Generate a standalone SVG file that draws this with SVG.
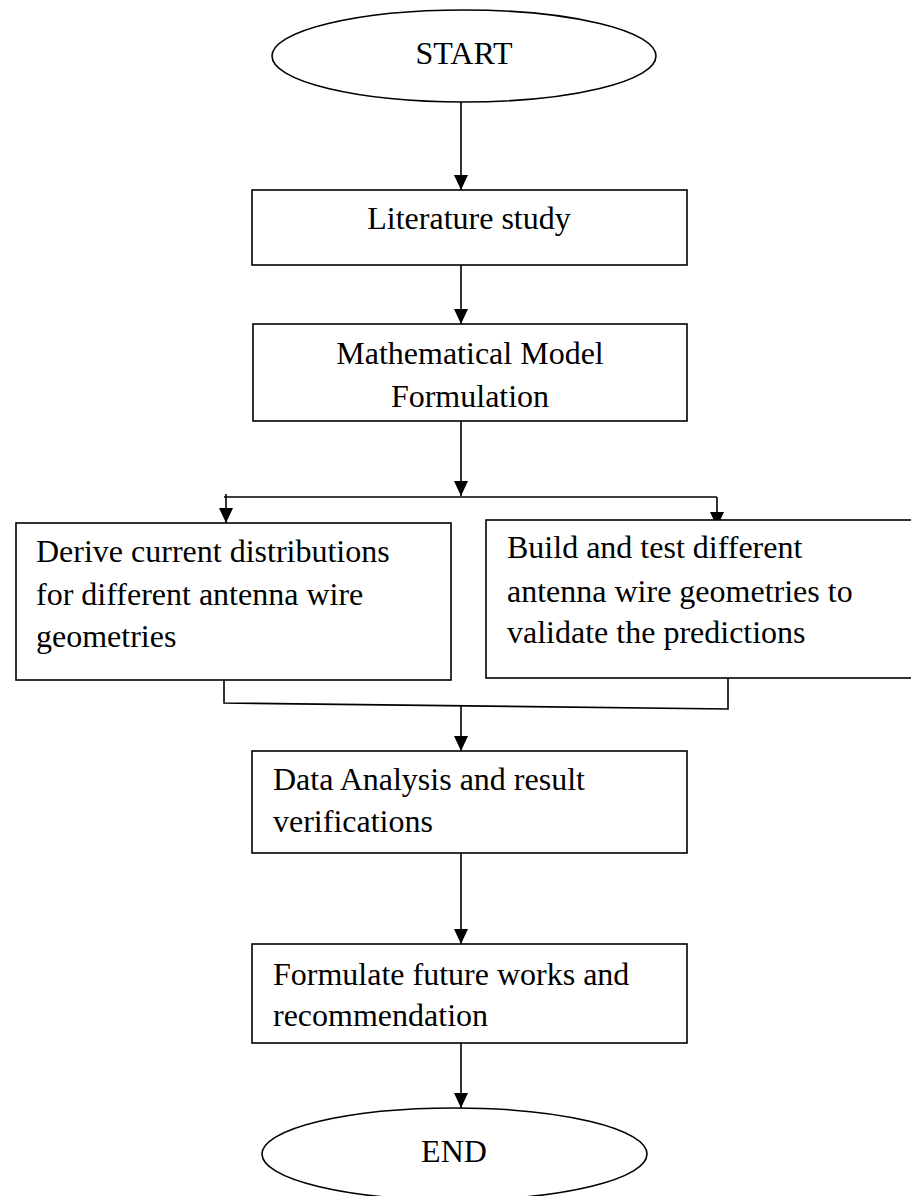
<svg xmlns="http://www.w3.org/2000/svg" width="911" height="1196" viewBox="0 0 911 1196">
<style>
.shape{fill:#fff;stroke:#000;stroke-width:1.6}
.ln{fill:none;stroke:#000;stroke-width:1.6}
.t{font-family:"Liberation Serif","Times New Roman",serif;font-size:32px;fill:#000}
.c{text-anchor:middle}
</style>
<defs>
<marker id="ah" markerUnits="userSpaceOnUse" markerWidth="16" markerHeight="16" refX="15" refY="7" orient="auto">
<path d="M0,0 L15,7 L0,14 z" fill="#000"/>
</marker>
</defs>
<rect width="911" height="1196" fill="#fff"/>
<g id="connectors">
<line class="ln" x1="461" y1="102" x2="461" y2="190" marker-end="url(#ah)"/>
<line class="ln" x1="461" y1="265" x2="461" y2="324" marker-end="url(#ah)"/>
<line class="ln" x1="461" y1="421" x2="461" y2="496" marker-end="url(#ah)"/>
<polyline class="ln" points="224,497 717,497"/>
<line class="ln" x1="226" y1="494" x2="226" y2="523" marker-end="url(#ah)"/>
<line class="ln" x1="717" y1="497" x2="717" y2="527" marker-end="url(#ah)"/>
<polyline class="ln" points="224,680 224,703 728,709 728,678"/>
<line class="ln" x1="461" y1="706" x2="461" y2="751" marker-end="url(#ah)"/>
<line class="ln" x1="461" y1="853" x2="461" y2="944" marker-end="url(#ah)"/>
<line class="ln" x1="461" y1="1043" x2="461" y2="1108" marker-end="url(#ah)"/>
</g>
<g id="start">
<ellipse class="shape" cx="464" cy="56" rx="192" ry="46"/>
<text class="t c" x="464" y="64">START</text>
</g>
<g id="literature">
<rect class="shape" x="252" y="190" width="435" height="75"/>
<text class="t c" x="469" y="229">Literature study</text>
</g>
<g id="math">
<rect class="shape" x="253" y="324" width="434" height="97"/>
<text class="t c" x="470" y="364">Mathematical Model</text>
<text class="t c" x="470" y="407">Formulation</text>
</g>
<g id="derive">
<rect class="shape" x="16" y="523" width="435" height="157"/>
<text class="t" x="36" y="562">Derive current distributions</text>
<text class="t" x="36" y="605">for different antenna wire</text>
<text class="t" x="36" y="647">geometries</text>
</g>
<g id="build">
<rect class="shape" x="486" y="520" width="440" height="158"/>
<text class="t" x="507" y="558">Build and test different</text>
<text class="t" x="507" y="602">antenna wire geometries to</text>
<text class="t" x="507" y="643">validate the predictions</text>
</g>
<g id="analysis">
<rect class="shape" x="252" y="751" width="435" height="102"/>
<text class="t" x="273" y="790">Data Analysis and result</text>
<text class="t" x="273" y="832">verifications</text>
</g>
<g id="future">
<rect class="shape" x="252" y="944" width="435" height="99"/>
<text class="t" x="273" y="985">Formulate future works and</text>
<text class="t" x="273" y="1026">recommendation</text>
</g>
<g id="end">
<ellipse class="shape" cx="454.5" cy="1154" rx="192.5" ry="46"/>
<text class="t c" x="454" y="1162">END</text>
</g>
</svg>
